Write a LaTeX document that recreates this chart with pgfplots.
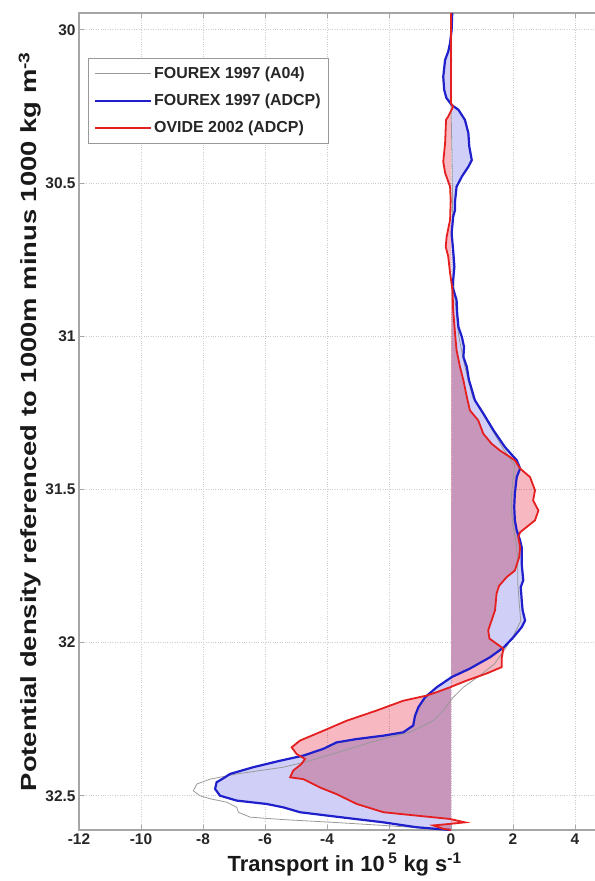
\documentclass[border=0pt]{standalone}
\usepackage{fontspec}
\setmainfont{Liberation Sans}
\usepackage{graphicx}
\usepackage{pgfplots}
\usepackage{pgfplotstable}
\pgfplotsset{compat=1.18}
\definecolor{lineblue}{rgb}{0.12,0.12,0.80}
\definecolor{linered}{rgb}{0.90,0.12,0.12}
\definecolor{fillblue}{rgb}{0.81,0.81,0.97}
\definecolor{fillred}{rgb}{0.97,0.72,0.76}

\pgfplotstableread{
x y
0.04 29.945
0.02 30.000
-0.03 30.043
-0.09 30.071
-0.19 30.098
-0.25 30.153
-0.22 30.196
-0.15 30.222
0.02 30.245
0.24 30.261
0.45 30.294
0.56 30.337
0.59 30.381
0.67 30.425
0.56 30.447
0.35 30.479
0.18 30.512
0.13 30.560
0.13 30.588
0.07 30.610
0.02 30.664
0.07 30.720
0.11 30.773
0.05 30.839
0.18 30.882
0.20 30.926
0.24 30.970
0.35 31.002
0.42 31.035
0.40 31.068
0.51 31.100
0.58 31.144
0.63 31.160
0.77 31.209
1.04 31.252
1.37 31.307
1.74 31.362
2.12 31.405
2.23 31.432
2.12 31.460
2.06 31.513
2.04 31.558
2.06 31.601
2.12 31.634
2.23 31.667
2.28 31.689
2.28 31.742
2.33 31.797
2.25 31.819
2.28 31.860
2.31 31.895
2.39 31.928
2.28 31.950
2.01 31.983
1.71 32.015
1.26 32.048
0.61 32.085
0.02 32.113
-0.46 32.146
-0.84 32.179
-1.05 32.211
-1.16 32.239
-1.22 32.271
-1.54 32.293
-2.18 32.304
-3.04 32.315
-3.69 32.326
-4.12 32.347
-4.76 32.369
-5.52 32.386
-6.38 32.407
-7.13 32.429
-7.29 32.440
-7.56 32.456
-7.61 32.478
-7.45 32.500
-6.91 32.516
-5.95 32.527
-5.41 32.538
-4.87 32.554
-3.58 32.570
-2.18 32.587
-1.11 32.603
-0.14 32.611
0.00 32.612
}\blueprof

\pgfplotstableread{
x y
0.00 29.945
0.00 30.240
0.07 30.250
-0.09 30.283
-0.16 30.294
-0.19 30.369
-0.25 30.430
-0.19 30.467
-0.03 30.512
-0.01 30.556
-0.03 30.620
-0.14 30.675
-0.17 30.708
-0.09 30.740
-0.03 30.794
0.05 30.850
0.07 30.915
0.13 30.990
0.18 31.046
0.29 31.100
0.40 31.144
0.51 31.198
0.61 31.242
0.88 31.275
1.04 31.318
1.31 31.351
1.58 31.373
2.06 31.405
2.23 31.432
2.55 31.460
2.71 31.503
2.65 31.536
2.82 31.569
2.71 31.601
2.44 31.623
2.23 31.640
2.17 31.656
2.23 31.689
2.20 31.721
2.06 31.765
1.80 31.786
1.55 31.815
1.47 31.840
1.42 31.895
1.20 31.960
1.24 31.987
1.69 32.020
1.64 32.048
1.64 32.080
1.15 32.101
0.51 32.124
-0.03 32.146
-0.46 32.162
-0.78 32.173
-1.54 32.190
-2.40 32.222
-3.36 32.255
-4.12 32.288
-4.87 32.320
-5.14 32.342
-4.98 32.364
-4.71 32.380
-4.82 32.396
-5.09 32.418
-5.19 32.440
-4.76 32.446
-4.23 32.473
-3.69 32.495
-3.04 32.527
-2.18 32.554
-1.11 32.565
-0.03 32.576
0.45 32.587
-0.03 32.592
-0.57 32.597
-0.25 32.608
0.00 32.612
}\redprof

\pgfplotstableread{
x y
0.00 29.945
0.02 30.100
0.00 30.250
0.03 30.400
0.05 30.550
0.05 30.700
0.10 30.850
0.25 31.000
0.45 31.100
0.70 31.200
1.00 31.250
1.35 31.310
1.70 31.370
2.05 31.420
2.00 31.470
1.95 31.520
1.95 31.570
2.00 31.620
2.10 31.670
2.15 31.720
2.15 31.800
2.20 31.870
2.25 31.930
2.00 31.980
1.75 32.020
1.40 32.070
0.90 32.110
0.40 32.146
0.07 32.179
-0.25 32.222
-0.57 32.255
-1.32 32.293
-2.40 32.320
-3.47 32.353
-4.55 32.386
-5.41 32.407
-6.91 32.429
-7.77 32.446
-8.20 32.462
-8.31 32.484
-8.10 32.500
-7.77 32.510
-7.24 32.521
-6.91 32.538
-6.86 32.554
-6.48 32.570
-5.41 32.578
-3.80 32.587
-2.18 32.597
-0.57 32.608
0.00 32.612
}\grayprof

\begin{document}
\begin{tikzpicture}
\begin{axis}[
  scale only axis,
  width=520.8bp, height=817bp,
  xmin=-12, xmax=4.8, ymin=29.945, ymax=32.612,
  y dir=reverse,
  xtick={-12,-10,-8,-6,-4,-2,0,2,4},
  ytick={30,30.5,31,31.5,32,32.5},
  yticklabels={30,30.5,31,31.5,32,32.5},
  grid=major,
  major grid style={gray!40, dotted, line width=0.8bp},
  axis line style={gray!70, line width=1.3bp},
  tick style={gray!70, line width=0.7bp},
  tick align=inside, major tick length=5bp,
  /pgf/number format/assume math mode=true,
  ticklabel style={font=\fontsize{15.5}{15.5}\selectfont\bfseries, text=black!85},
  xticklabel style={yshift=0bp},
  xlabel={Transport in 10\,\textsuperscript{5} kg s\textsuperscript{-1}},
  ylabel={\scalebox{1.25}[1]{Potential density referenced to 1000m minus 1000 kg m\textsuperscript{-3}}},
  label style={font=\fontsize{22}{22}\selectfont\bfseries, text=black!90},
  xlabel style={at={(axis description cs:0.51,-0.042)}, anchor=center},
  ylabel style={at={(axis description cs:-0.094,0.5)}, anchor=center},
  legend style={at={(0.0165,0.945)}, anchor=north west, draw=gray!80, line width=0.8bp,
    font=\fontsize{16}{16}\selectfont\bfseries, text=black!85, row sep=10bp,
    inner xsep=6bp, inner ysep=7bp, cells={anchor=west}},
  legend image code/.code={\path (0bp,0bp) -- (56bp,0bp); \draw[#1] (0bp,0bp) -- (52bp,0bp);},
]
\addplot[draw=none, fill=fillblue, forget plot] table[x=x,y=y] {\blueprof};
\addplot[draw=none, fill=fillred, blend mode=multiply, forget plot] table[x=x,y=y] {\redprof};
\addplot[gray!80, line width=0.8bp] table[x=x,y=y] {\grayprof};
\addlegendentry{FOUREX 1997 (A04)}
\addplot[lineblue, line width=2.2bp] table[x=x,y=y] {\blueprof};
\addlegendentry{FOUREX 1997 (ADCP)}
\addplot[linered, line width=1.8bp] table[x=x,y=y] {\redprof};
\addlegendentry{OVIDE 2002 (ADCP)}
\end{axis}
\pgfresetboundingbox
\path[use as bounding box] ([xshift=-79bp,yshift=-51bp]current axis.south west) rectangle ([xshift=516bp,yshift=13bp]current axis.north west);
\end{tikzpicture}
\end{document}
